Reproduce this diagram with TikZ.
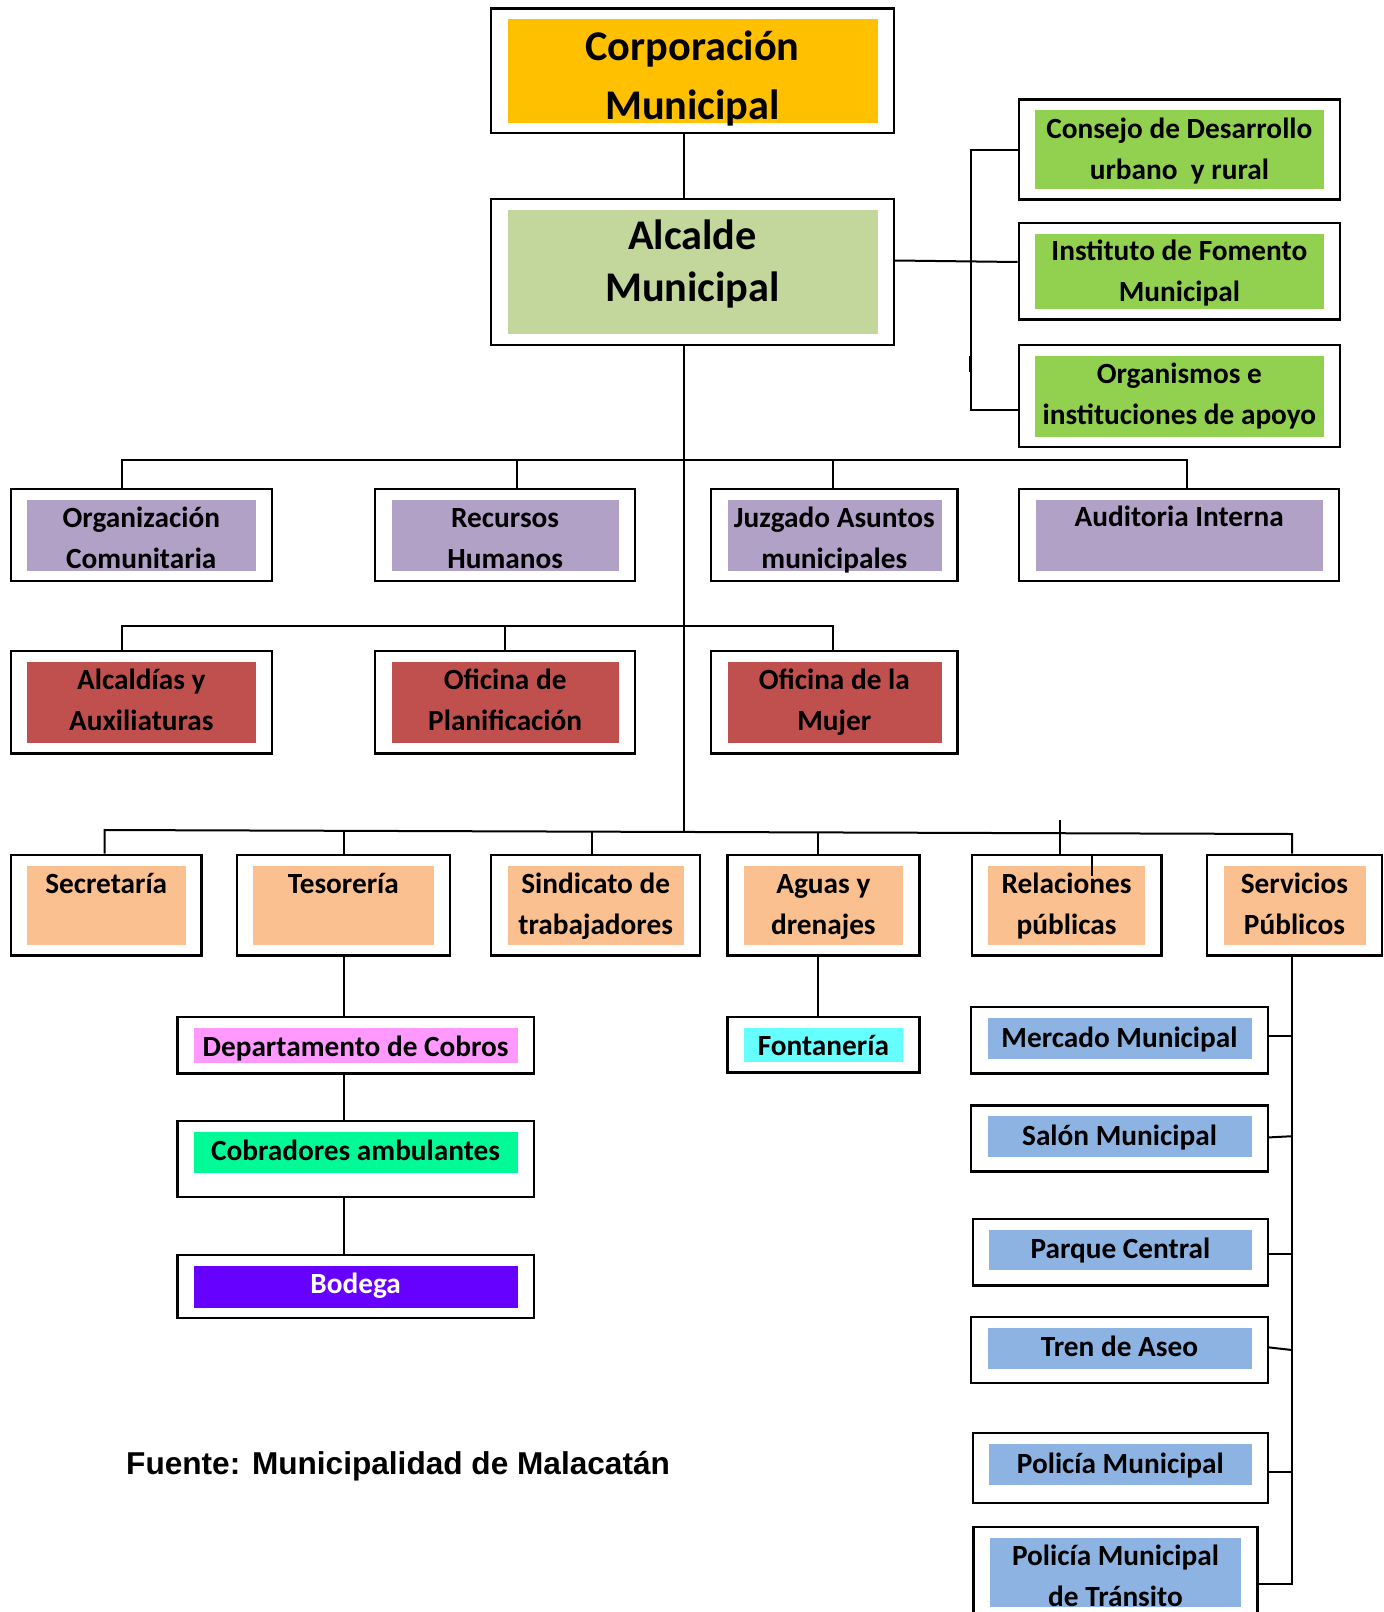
\documentclass[tikz,border=0pt]{standalone}
\usepackage{fontspec}
\setmainfont{Carlito}
\newfontfamily\arialfont{Liberation Sans}
\usetikzlibrary{positioning}

\definecolor{gold}{HTML}{FFC000}
\definecolor{olive}{HTML}{C3D69B}
\definecolor{leaf}{HTML}{92D050}
\definecolor{lilac}{HTML}{B2A1C7}
\definecolor{brick}{HTML}{C0504D}
\definecolor{peach}{HTML}{FAC090}
\definecolor{pinkish}{HTML}{FF99FF}
\definecolor{spring}{HTML}{00FA96}
\definecolor{violet}{HTML}{6600FF}
\definecolor{aqua}{HTML}{66FFFF}
\definecolor{sky}{HTML}{8DB3E2}

\newcommand\unitfont{\fontsize{29.3}{41}\selectfont\bfseries}
\newcommand\headfont{\fontsize{42.3}{59}\selectfont\bfseries}

\begin{document}
\begin{tikzpicture} [x=1pt,y=-1pt,
			gap/.store in=\gapbot, gap=10.5pt,
			unit/.style={draw,line width=2.3pt,fill=white,anchor=north west,
				inner xsep=0pt,inner ysep=0pt,align=center,font=\unitfont,
				text height=39pt,
				path picture={\fill[#1] ([shift={(16.5pt,-11pt)}]path picture bounding box.north west)
					rectangle ([shift={(-16pt,\gapbot)}]path picture bounding box.south east);}},
			link/.style={line width=2pt}]

		\useasboundingbox (0,0) rectangle (1384,1612);
		\clip (0,0) rectangle (1384,1612);

		% top
		\node [unit=gold, font=\headfont, text height=111pt, text depth=13.7pt, minimum width=402.7pt, gap=10pt] (corp) at (490,7.3) {Corporación\\Municipal};
		\node [unit=olive, font=\fontsize{42.3}{52}\selectfont\bfseries, text height=102pt, text depth=44pt, minimum width=402.7pt, gap=11pt] (alc) at (490,198) {Alcalde\\Municipal};

		% right side
		\node [unit=leaf, text height=80pt, text depth=20pt, minimum width=321pt] (cons) at (1017.7,98.3) {Consejo de Desarrollo\\urbano\ \ y rural};
		\node [unit=leaf, text height=78.5pt, text depth=18.1pt, minimum width=321pt] (inst) at (1017.7,221.7) {Instituto de Fomento\\Municipal};
		\node [unit=leaf, text height=79.5pt, text depth=22.5pt, minimum width=321pt] (orga) at (1017.7,344) {Organismos e\\instituciones de apoyo};

		% first row
		\node [unit=lilac, text height=80pt, text depth=12.5pt, minimum width=260.7pt, gap=10pt] (orgc) at (9.8,487.5) {Organización\\Comunitaria};
		\node [unit=lilac, text height=80pt, text depth=12.5pt, minimum width=260pt, gap=10pt] (rrhh) at (374,487.5) {Recursos\\Humanos};
		\node [unit=lilac, text height=80pt, text depth=12.5pt, minimum width=246.5pt, gap=10pt] (juzg) at (709.9,487.5) {Juzgado Asuntos\\municipales};
		\node [unit=lilac, text height=37.5pt, text depth=55pt, minimum width=320pt, gap=10pt] (audi) at (1018,487.5) {Auditoria Interna};

		% second row
		\node [unit=brick, text height=79.5pt, text depth=22.8pt, minimum width=260.7pt] (alca) at (9.8,650) {Alcaldías y\\Auxiliaturas};
		\node [unit=brick, text height=79.5pt, text depth=22.8pt, minimum width=260pt] (plan) at (374,650) {Oficina de\\Planificación};
		\node [unit=brick, text height=79.5pt, text depth=22.8pt, minimum width=246.5pt] (mujer) at (709.9,650) {Oficina de la\\Mujer};

		% third row
		\node [unit=peach, text depth=61.6pt, minimum width=190.6pt] (secr) at (9.8,853.7) {Secretaría};
		\node [unit=peach, text depth=61.6pt, minimum width=213pt] (teso) at (235.7,853.7) {Tesorería};
		\node [unit=peach, text height=80pt, text depth=20.6pt, minimum width=209pt] (sind) at (490,853.7) {Sindicato de\\trabajadores};
		\node [unit=peach, text height=80pt, text depth=20.6pt, minimum width=192pt] (agua) at (726.2,853.7) {Aguas y\\drenajes};
		\node [unit=peach, text height=80pt, text depth=20.6pt, minimum width=189.8pt] (rela) at (970.5,853.7) {Relaciones\\públicas};
		\node [unit=peach, text height=80pt, text depth=20.6pt, minimum width=174.6pt] (serv) at (1206,853.7) {Servicios\\Públicos};

		% under Tesoreria and Aguas
		\node [unit=pinkish, text depth=17.3pt, minimum width=356.3pt] (cobr) at (176.3,1016) {Departamento de Cobros};
		\node [unit=spring, text depth=37pt, minimum width=356.3pt, gap=24.3pt] (cobra) at (176.3,1120) {Cobradores ambulantes};
		\node [unit=violet, text=white, text height=38.7pt, text depth=24pt, minimum width=356.3pt, gap=10pt] (bod) at (176.3,1254) {Bodega};
		\node [unit=aqua, text height=38pt, text depth=17.4pt, minimum width=192pt, gap=10.4pt] (fonta) at (726.2,1016) {Fontanería};

		% under Servicios
		\node [unit=sky, text height=40pt, text depth=26.2pt, minimum width=296.7pt, gap=14.4pt] (merc) at (970,1006) {Mercado Municipal};
		\node [unit=sky, text height=40pt, text depth=26pt, minimum width=296.7pt, gap=14.5pt] (salon) at (970,1104.2) {Salón Municipal};
		\node [unit=sky, text height=40pt, text depth=26.4pt, minimum width=295pt, gap=15pt] (parq) at (971.7,1217.8) {Parque Central};
		\node [unit=sky, text height=40pt, text depth=25.9pt, minimum width=296.7pt, gap=14pt] (tren) at (970,1315.8) {Tren de Aseo};
		\node [unit=sky, text height=40pt, text depth=30pt, minimum width=295pt, gap=18.4pt] (poli) at (971.7,1432) {Policía Municipal};
		\node [unit=sky, text height=80pt, text depth=50pt, minimum width=284pt, gap=50pt] (tran) at (972.3,1525.7) {Policía Municipal\\de Tránsito};

		\node [font=\arialfont\fontsize{31.6}{38}\selectfont\bfseries, anchor=base west, inner sep=0pt] (fuente) at (126,1474) {Fuente: Municipalidad de Malacatán};

		% spine
		\draw [link] (corp.south -| 684.4,0) -- (alc.north -| 684.4,0);
		\draw [link] (alc.south -| 684.4,0) -- (684.4,832);
		\draw [link] (alc.east |- 0,260.5) -- (inst.west |- 0,262);
		\draw [link] (cons.west |- 0,150) -- (971,150) -- (971,410) -- (orga.west |- 0,410);
		\draw [link] (969.6,356) -- (969.6,372);

		% rows
		\draw [link] (orgc.north -| 122,0) -- (122,460) -| (audi.north -| 1186.5,0);
		\draw [link] (rrhh.north -| 516.5,0) -- (516.5,460);
		\draw [link] (juzg.north -| 832.5,0) -- (832.5,460);
		\draw [link] (alca.north -| 122,0) -- (122,626) -| (mujer.north -| 832.5,0);
		\draw [link] (plan.north -| 504.5,0) -- (504.5,626);
		\draw [link] (secr.north -| 104.5,0) -- (104.5,830) -- (1292,834) -- (serv.north -| 1292,0);
		\draw [link] (teso.north -| 344,0) -- (344,831);
		\draw [link] (sind.north -| 592,0) -- (592,832);
		\draw [link] (agua.north -| 818.2,0) -- (818.2,832);
		\draw [link] (rela.north -| 1060.4,0) -- (1060.4,820);
		\draw [link] (rela.north -| 1092,0) -- (1092,876);

		% below
		\draw [link] (teso.south -| 344,0) -- (cobr.north -| 344,0);
		\draw [link] (cobr.south -| 344,0) -- (cobra.north -| 344,0);
		\draw [link] (cobra.south -| 344,0) -- (bod.north -| 344,0);
		\draw [link] (agua.south -| 818.2,0) -- (fonta.north -| 818.2,0);
		\draw [link] (serv.south -| 1292,0) -- (1292,1583.5) -- (tran.east |- 0,1583.5);
		\draw [link] (merc.east |- 0,1036) -- (1292,1036);
		\draw [link] (salon.east |- 0,1137.4) -- (1292,1136.2);
		\draw [link] (parq.east |- 0,1253.7) -- (1292,1253.7);
		\draw [link] (tren.east |- 0,1347.4) -- (1292,1350);
		\draw [link] (poli.east |- 0,1472) -- (1292,1472);

		\end{tikzpicture}
\end{document}
